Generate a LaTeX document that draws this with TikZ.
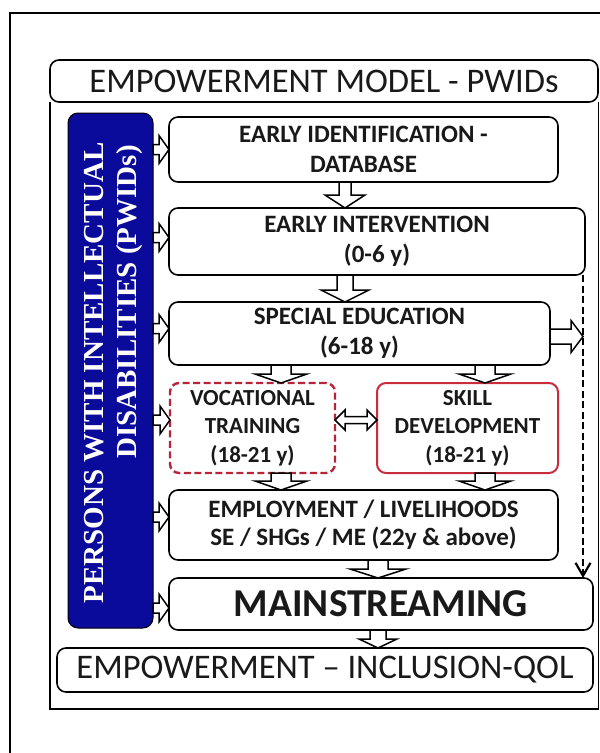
\documentclass[tikz,border=0pt]{standalone}
\usepackage{fontspec}
\setmainfont{Carlito}
\newfontfamily\bluefont{Liberation Serif}
\usetikzlibrary{calc,arrows.meta}
\definecolor{navyfill}{RGB}{10,10,155}
\definecolor{redsolid}{RGB}{200,45,60}
\definecolor{reddash}{RGB}{185,35,55}
\definecolor{ink}{RGB}{25,25,25}
\begin{document}
\begin{tikzpicture}[x=1pt,y=-1pt,
  every node/.style={inner sep=0pt, outer sep=0pt, text=ink},
  box/.style={draw=black, line width=1.6pt, rounded corners=9pt, fill=white, align=center,
     font=\bfseries\fontsize{25}{30}\selectfont},
  smallbox/.style={box, line width=2pt, font=\bfseries\fontsize{23}{28.5}\selectfont},
  bluetext/.style={text=white, rotate=90, anchor=base, font=\bluefont\bfseries\fontsize{29}{34}\selectfont},
  harrow/.style n args={3}{draw=black, fill=white, line width=1.5pt, line join=miter, to path={
    let \p1=(\tikztostart), \p2=(\tikztotarget), \p3=($(\p2)!#3!(\p1)$) in
    ($(\p1)!#1!90:(\p2)$) -- ($(\p3)!#1!90:(\p2)$) -- ($(\p3)!#2!90:(\p2)$) -- (\p2)
    -- ($(\p3)!#2!-90:(\p2)$) -- ($(\p3)!#1!-90:(\p2)$) -- ($(\p1)!#1!-90:(\p2)$) -- cycle}},
  dharrow/.style n args={3}{draw=black, fill=white, line width=1.5pt, line join=miter, to path={
    let \p1=(\tikztostart), \p2=(\tikztotarget), \p3=($(\p1)!#3!(\p2)$), \p4=($(\p2)!#3!(\p1)$) in
    (\p1) -- ($(\p3)!#2!90:(\p2)$) -- ($(\p3)!#1!90:(\p2)$) -- ($(\p4)!#1!-90:(\p1)$)
    -- ($(\p4)!#2!-90:(\p1)$) -- (\p2) -- ($(\p4)!#2!90:(\p1)$) -- ($(\p4)!#1!90:(\p1)$)
    -- ($(\p3)!#1!-90:(\p2)$) -- ($(\p3)!#2!-90:(\p2)$) -- cycle}},
  leftarr/.style={harrow={5pt}{14pt}{10pt}},
  downarr/.style={harrow={6pt}{20pt}{13pt}},
  shortdown/.style={harrow={10pt}{26pt}{9pt}},
  dashy/.style={line width=2.6pt, dash pattern=on 7pt off 3.5pt,
     -{Straight Barb[length=13pt,width=15pt,line width=2.2pt]}}
]
\useasboundingbox (0,0) rectangle (600,753);
\fill[white] (0,0) rectangle (600,753);

% frames
\draw[line width=2.2pt] (10,753) -- (10,13) -- (600,13);
\draw[line width=1.6pt] (50,102) -- (50,709) -- (598.5,709) -- (598.5,102);

% title
\node[box, font=\fontsize{34.5}{40}\selectfont, minimum width=548pt, minimum height=42pt] (title) at (324,81) {EMPOWERMENT MODEL - PWIDs};

% blue side box
\node[draw=black, line width=1pt, fill=navyfill, rounded corners=10pt, minimum width=85pt, minimum height=515pt] (B) at (110.5,370.5) {};
\node[bluetext] (bt1) at (103,373) {PERSONS WITH INTELLECTUAL};
\node[bluetext] (bt2) at (136,302) {DISABILITIES (PWIDs)};

% main boxes
\node[box, minimum width=389pt, minimum height=65pt] (eid) at (363.5,149.5) {EARLY IDENTIFICATION -\\DATABASE};
\node[box, minimum width=416pt, minimum height=67pt] (ei) at (377,241.5) {EARLY INTERVENTION\\(0-6 y)};
\node[box, minimum width=381pt, minimum height=63pt] (se) at (359.5,333.5) {SPECIAL EDUCATION\\(6-18 y)};
\node[smallbox, draw=reddash, line width=2.4pt, dash pattern=on 7pt off 3.5pt, minimum width=165pt, minimum height=90pt] (vt) at (252.5,428) {VOCATIONAL\\TRAINING\\(18-21 y)};
\node[smallbox, draw=redsolid, minimum width=181pt, minimum height=90pt] (sd) at (467.5,428) {SKILL\\DEVELOPMENT\\(18-21 y)};
\node[box, font=\bfseries\fontsize{25}{28}\selectfont, minimum width=389pt, minimum height=70pt] (emp) at (363.5,525) {EMPLOYMENT / LIVELIHOODS\\SE / SHGs / ME (22y \& above)};
\node[box, font=\bfseries\fontsize{39.5}{44}\selectfont, minimum width=424pt, minimum height=52pt] (main) at (381,604) {MAINSTREAMING};
\node[box, font=\fontsize{34.5}{40}\selectfont, minimum width=536pt, minimum height=44pt] (eiq) at (325,670) {EMPOWERMENT – INCLUSION-QOL};

% helper x positions
\coordinate (xa) at (345,0);
\coordinate (xb) at (281,0);
\coordinate (xc) at (485,0);
\coordinate (xd) at (378,0);
\coordinate (dl) at (583,0);

% dashed bypass
\draw[dashy] (ei.south -| dl) -- (main.north -| dl);

% left arrows from blue box
\draw[leftarr] (B.east |- eid.west) to (eid.west);
\draw[leftarr] ($(B.east |- ei.west)+(0,-4)$) to ($(ei.west)+(0,-4)$);
\draw[leftarr] ($(B.east |- se.west)+(0,-5)$) to ($(se.west)+(0,-5)$);
\draw[leftarr] ($(B.east |- vt.west)+(0,-8)$) to ($(vt.west)+(0,-8)$);
\draw[leftarr] ($(B.east |- emp.west)+(0,-8)$) to ($(emp.west)+(0,-8)$);
\draw[leftarr] ($(B.east |- main.west)+(0,4)$) to ($(main.west)+(0,4)$);

% down arrows
\draw[downarr] (eid.south -| xa) to (ei.north -| xa);
\draw[harrow={8pt}{24pt}{12pt}] (ei.south -| xa) to (se.north -| xa);
\draw[shortdown] (se.south -| xb) to (vt.north -| xb);
\draw[shortdown] (se.south -| xc) to (sd.north -| xc);
\draw[shortdown] (vt.south -| xb) to (emp.north -| xb);
\draw[shortdown] (sd.south -| xc) to (emp.north -| xc);
\draw[harrow={10pt}{28pt}{9pt}] (emp.south -| xd) to (main.north -| xd);
\draw[harrow={8pt}{19pt}{9pt}] (main.south -| xd) to (eiq.north -| xd);

% right arrow to bypass
\draw[harrow={7.5pt}{16pt}{12pt}] ($(se.east)+(0,3)$) to ($(dl |- se.east)+(0,3)$);

% double arrow
\draw[dharrow={3.5pt}{10pt}{10pt}] ($(vt.east)+(0,-8)$) to ($(sd.west)+(0,-8)$);
\end{tikzpicture}
\end{document}
